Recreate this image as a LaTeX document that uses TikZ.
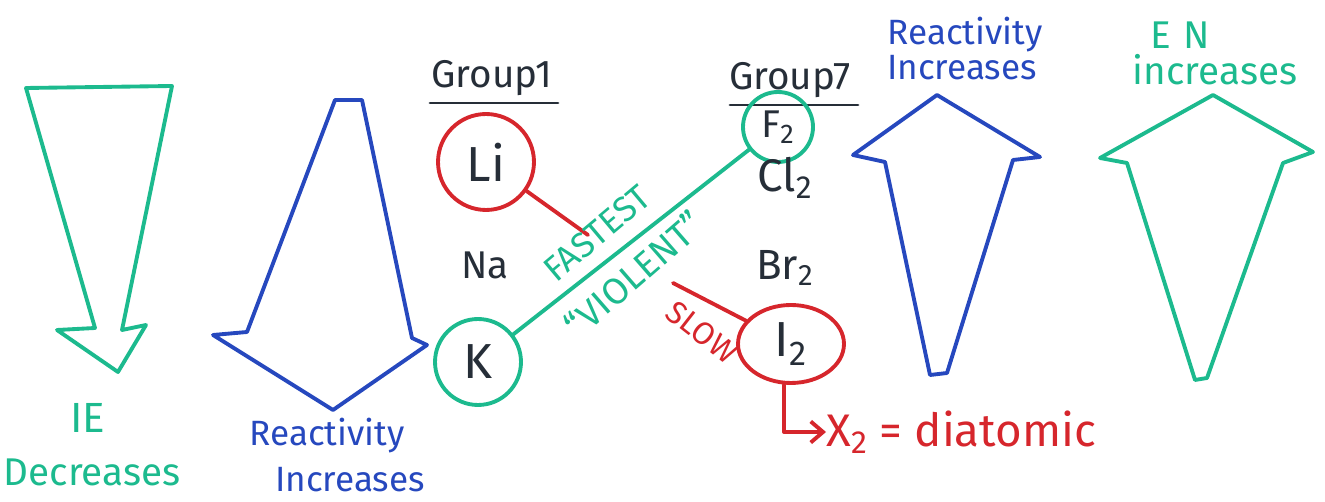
\documentclass[tikz,border=0pt]{standalone}
\usepackage{fontspec}
\setmainfont{Fira Sans}
\usetikzlibrary{shapes.geometric,arrows.meta}
\definecolor{mgreen}{RGB}{28,186,142}
\definecolor{mblue}{RGB}{38,72,190}
\definecolor{mred}{RGB}{214,38,44}
\definecolor{mdark}{RGB}{38,46,56}
\tikzset{
  pen/.style={line width=2.2pt, line join=round, line cap=round},
  lbl/.style={inner sep=0pt, font=\fontsize{#1}{#1}\selectfont},
  ring/.style={pen, circle, inner sep=0pt, text=mdark, font=\fontsize{28}{28}\selectfont}
}
\begin{document}
\begin{tikzpicture}[x=0.02cm, y=-0.02cm]
\useasboundingbox (0,0) rectangle (1325,502);
% green down arrow
\draw[pen, mgreen] (26,88) -- (172,86) -- (122,330) -- (146,325) -- (118,372) -- (57,330) -- (95,328) -- cycle;
\node[lbl=24, text=mgreen] (ie) at (88,418) {IE};
\node[lbl=22, text=mgreen] (dec) at (92,472) {Decreases};
% blue down arrow
\draw[pen, mblue] (335,100) -- (362,100) -- (412,338) -- (427,345) -- (333,410) -- (213,335) -- (247,332) -- cycle;
\node[lbl=20, text=mblue] (react1) at (327,436) {Reactivity};
\node[lbl=20, text=mblue] (incr1) at (350,480) {Increases};
% group headers
\node[lbl=22, text=mdark] (g1) at (492,78) {Group1};
\draw[pen, mdark, line width=1.6pt] (430,103) -- (558,103);
\node[lbl=22, text=mdark] (g7) at (790,80) {Group7};
\draw[pen, mdark, line width=1.6pt] (730,105) -- (858,105);
% group 1
\node[ring, draw=mred, minimum size=1.92cm] (li) at (486,162) {Li};
\coordinate (lie) at (588,235);
\draw[pen, mred] (li) -- (lie);
\node[lbl=22, text=mdark] (na) at (485,265) {Na};
\node[ring, draw=mgreen, minimum size=1.72cm] (k) at (478,362) {K};
% group 7
\node[ring, draw=mgreen, minimum size=1.4cm, font=\fontsize{22}{22}\selectfont] (f2) at (778,127) {F\textsubscript{2}};
\node[lbl=26, text=mdark] (cl2) at (785,178) {Cl\textsubscript{2}};
\node[lbl=24, text=mdark] (br2) at (785,268) {Br\textsubscript{2}};
\node[ring, ellipse, draw=mred, minimum width=2.12cm, minimum height=1.56cm] (i2) at (791,344) {I\textsubscript{2}};
% connectors
\draw[pen, mgreen] (k) -- (f2);
\node[lbl=20, text=mgreen, rotate=40] (fast) at (597,233) {FASTEST};
\node[lbl=21, text=mgreen, rotate=41] (viol) at (634,274) {``VIOLENT''};
\coordinate (slowe) at (673,283);
\draw[pen, mred] (slowe) -- (i2);
\node[lbl=18, text=mred, rotate=-38] (slow) at (702,332) {SLOW};
\node[lbl=26, text=mred, anchor=west] (x2) at (826,432) {X\textsubscript{2} = diatomic};
\draw[pen, mred, -{Straight Barb[length=7pt,width=12pt]}] ([xshift=-4pt]i2.south) |- (x2.west);
% blue up arrow
\draw[pen, mblue] (937,95) -- (1040,157) -- (1013,160) -- (947,373) -- (930,375) -- (885,162) -- (853,155) -- cycle;
\node[lbl=20, text=mblue] (react2) at (965,35) {Reactivity};
\node[lbl=20, text=mblue] (incr2) at (962,68) {Increases};
% green up arrow
\draw[pen, mgreen] (1213,95) -- (1313,152) -- (1283,163) -- (1207,378) -- (1195,380) -- (1127,163) -- (1100,158) -- cycle;
\node[lbl=22, text=mgreen] (en) at (1180,35) {E\,\,N};
\node[lbl=22, text=mgreen] (incr3) at (1215,70) {increases};
\end{tikzpicture}
\end{document}
